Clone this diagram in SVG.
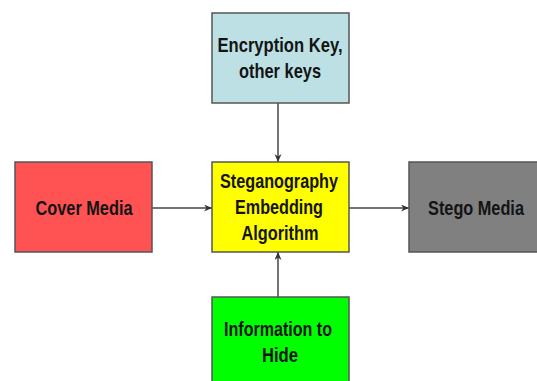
<svg xmlns="http://www.w3.org/2000/svg" width="537" height="381" viewBox="0 0 537 381">
<defs>
<style>
.box{stroke:#555;stroke-width:1.5}
.t{font-family:"Liberation Sans",Arial,sans-serif;font-weight:bold;font-size:21px;fill:#141414;text-anchor:middle}
.c{stroke:#444;stroke-width:1.5;fill:none;marker-end:url(#ah)}
</style>
<marker id="ah" markerWidth="9" markerHeight="8" refX="8" refY="3.5" orient="auto" markerUnits="userSpaceOnUse">
<path d="M0,0 L8,3.5 L0,7 L2.5,3.5 z" fill="#333"/>
</marker>
</defs>
<rect width="537" height="381" fill="#fff"/>
<g id="connectors">
<line class="c" x1="278" y1="103" x2="278" y2="162"/>
<line class="c" x1="152" y1="208" x2="212" y2="208"/>
<line class="c" x1="349" y1="208" x2="409" y2="208"/>
<line class="c" x1="278" y1="297" x2="278" y2="252"/>
</g>
<g id="keys">
<rect class="box" x="212" y="13" width="137" height="90" fill="#bde0e4"/>
<text class="t" x="280" y="52" textLength="125" lengthAdjust="spacingAndGlyphs">Encryption Key,</text>
<text class="t" x="280" y="78" textLength="82" lengthAdjust="spacingAndGlyphs">other keys</text>
</g>
<g id="cover">
<rect class="box" x="15" y="162" width="137" height="90" fill="#ff5252"/>
<text class="t" x="84" y="215" textLength="97" lengthAdjust="spacingAndGlyphs">Cover Media</text>
</g>
<g id="algorithm">
<rect class="box" x="212" y="162" width="137" height="90" fill="#ffff00"/>
<text class="t" x="279" y="188" textLength="118" lengthAdjust="spacingAndGlyphs">Steganography</text>
<text class="t" x="279" y="214" textLength="88" lengthAdjust="spacingAndGlyphs">Embedding</text>
<text class="t" x="280" y="240" textLength="77" lengthAdjust="spacingAndGlyphs">Algorithm</text>
</g>
<g id="stego">
<rect class="box" x="409" y="162" width="137" height="90" fill="#808080"/>
<text class="t" transform="translate(476,215) scale(0.776,1)" x="0" y="0">Stego Media</text>
</g>
<g id="info">
<rect class="box" x="212" y="297" width="137" height="90" fill="#00ff00"/>
<text class="t" x="278" y="336" textLength="108" lengthAdjust="spacingAndGlyphs">Information to</text>
<text class="t" x="280" y="362" textLength="36" lengthAdjust="spacingAndGlyphs">Hide</text>
</g>
</svg>
